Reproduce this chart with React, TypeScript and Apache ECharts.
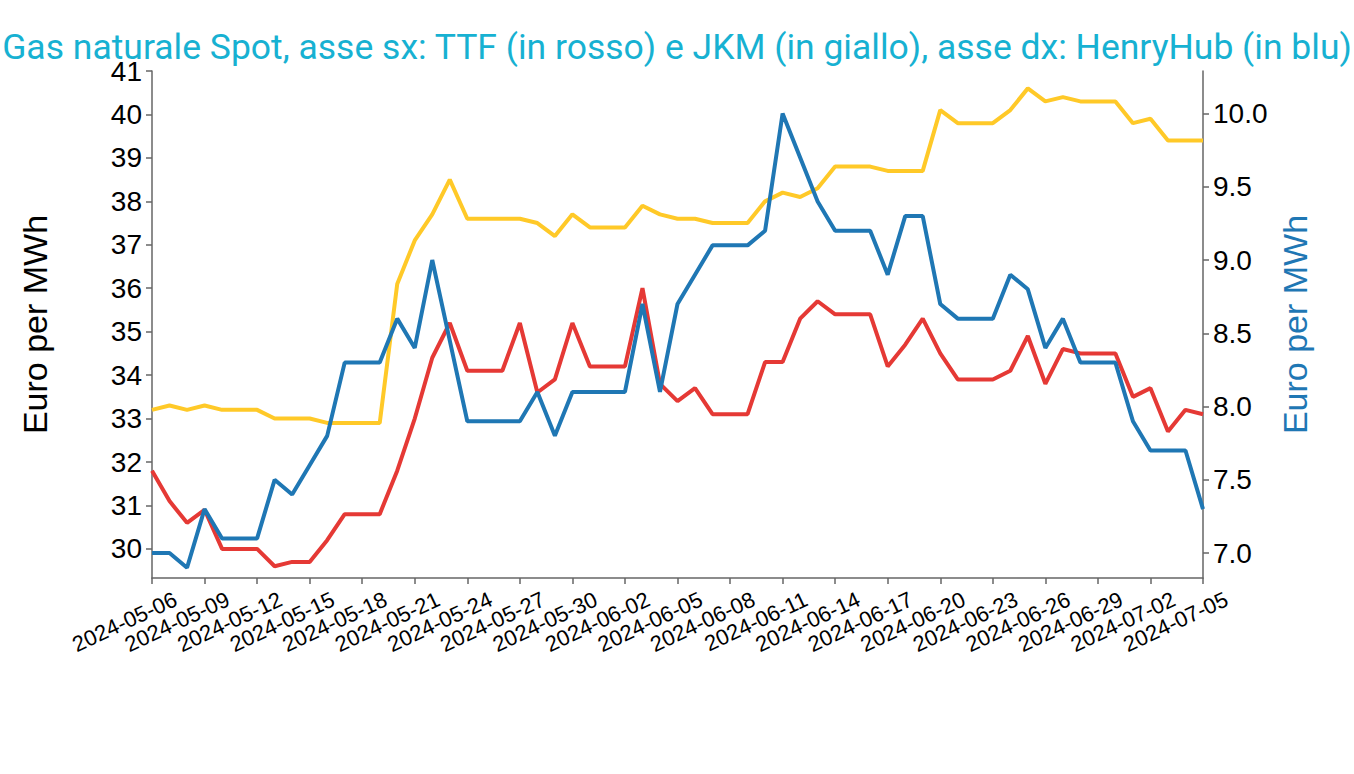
import React, { useEffect, useRef } from "react";
import * as echarts from "echarts";

const dates: string[] = [
  "2024-05-06","2024-05-07","2024-05-08","2024-05-09","2024-05-10","2024-05-11","2024-05-12","2024-05-13","2024-05-14","2024-05-15",
  "2024-05-16","2024-05-17","2024-05-18","2024-05-19","2024-05-20","2024-05-21","2024-05-22","2024-05-23","2024-05-24","2024-05-25",
  "2024-05-26","2024-05-27","2024-05-28","2024-05-29","2024-05-30","2024-05-31","2024-06-01","2024-06-02","2024-06-03","2024-06-04",
  "2024-06-05","2024-06-06","2024-06-07","2024-06-08","2024-06-09","2024-06-10","2024-06-11","2024-06-12","2024-06-13","2024-06-14",
  "2024-06-15","2024-06-16","2024-06-17","2024-06-18","2024-06-19","2024-06-20","2024-06-21","2024-06-22","2024-06-23","2024-06-24",
  "2024-06-25","2024-06-26","2024-06-27","2024-06-28","2024-06-29","2024-06-30","2024-07-01","2024-07-02","2024-07-03","2024-07-04",
  "2024-07-05",
];

const ttf: number[] = [
  31.8,31.1,30.6,30.9,30.0,30.0,30.0,29.6,29.7,29.7,
  30.2,30.8,30.8,30.8,31.8,33.0,34.4,35.2,34.1,34.1,
  34.1,35.2,33.6,33.9,35.2,34.2,34.2,34.2,36.0,33.8,
  33.4,33.7,33.1,33.1,33.1,34.3,34.3,35.3,35.7,35.4,
  35.4,35.4,34.2,34.7,35.3,34.5,33.9,33.9,33.9,34.1,
  34.9,33.8,34.6,34.5,34.5,34.5,33.5,33.7,32.7,33.2,
  33.1,
];

const jkm: number[] = [
  33.2,33.3,33.2,33.3,33.2,33.2,33.2,33.0,33.0,33.0,
  32.9,32.9,32.9,32.9,36.1,37.1,37.7,38.5,37.6,37.6,
  37.6,37.6,37.5,37.2,37.7,37.4,37.4,37.4,37.9,37.7,
  37.6,37.6,37.5,37.5,37.5,38.0,38.2,38.1,38.3,38.8,
  38.8,38.8,38.7,38.7,38.7,40.1,39.8,39.8,39.8,40.1,
  40.6,40.3,40.4,40.3,40.3,40.3,39.8,39.9,39.4,39.4,
  39.4,
];

const henryHub: number[] = [
  7.0,7.0,6.9,7.3,7.1,7.1,7.1,7.5,7.4,7.6,
  7.8,8.3,8.3,8.3,8.6,8.4,9.0,8.45,7.9,7.9,
  7.9,7.9,8.1,7.8,8.1,8.1,8.1,8.1,8.7,8.1,
  8.7,8.9,9.1,9.1,9.1,9.2,10.0,9.7,9.4,9.2,
  9.2,9.2,8.9,9.3,9.3,8.7,8.6,8.6,8.6,8.9,
  8.8,8.4,8.6,8.3,8.3,8.3,7.9,7.7,7.7,7.7,
  7.3,
];

const titleText =
  "Gas naturale Spot, asse sx: TTF (in rosso) e JKM (in giallo), asse dx: HenryHub (in blu)";
const yName = "Euro per MWh";

const AXIS_FONT = "'Liberation Sans', Arial, sans-serif";
const AXIS_COLOR = "#666666";
const LINE_W = 4;

export default function App() {
  const ref = useRef<HTMLDivElement>(null);

  useEffect(() => {
    document.body.style.margin = "0";
    if (!ref.current) return;
    const chart = echarts.init(ref.current, undefined, { renderer: "svg" });
    chart.setOption({
      animation: false,
      backgroundColor: "#ffffff",
      title: {
        text: titleText,
        left: "center",
        top: 29,
        padding: 0,
        textStyle: {
          color: "#17b1d2",
          fontFamily: "Roboto, sans-serif",
          fontWeight: "normal",
          fontSize: 35.5,
        },
      },
      grid: { left: 152, right: 151, top: 71, bottom: 196, containLabel: false },
      xAxis: {
        type: "category",
        data: dates,
        boundaryGap: false,
        axisLine: { show: true, lineStyle: { color: AXIS_COLOR, width: 1.5 } },
        axisTick: { show: true, interval: 2, length: 6, lineStyle: { color: AXIS_COLOR, width: 1.5 } },
        axisLabel: {
          interval: 2,
          rotate: 25,
          margin: 31,
          padding: [0, -26, 0, 0],
          color: "#000",
          fontSize: 22,
          fontFamily: AXIS_FONT,
        },
        splitLine: { show: false },
      },
      yAxis: [
        {
          type: "value",
          position: "left",
          min: 29.33,
          max: 41,
          minInterval: 1,
          maxInterval: 1,
          name: yName,
          nameLocation: "middle",
          nameGap: 100,
          nameRotate: 90,
          nameTextStyle: { color: "#000", fontSize: 34, fontFamily: AXIS_FONT },
          axisLine: { show: true, lineStyle: { color: AXIS_COLOR, width: 1.5 } },
          axisTick: { show: true, length: 6, lineStyle: { color: AXIS_COLOR, width: 1.5 } },
          axisLabel: {
            showMinLabel: false,
            margin: 10,
            color: "#000",
            fontSize: 28,
            fontFamily: AXIS_FONT,
          },
          splitLine: { show: false },
        },
        {
          type: "value",
          position: "right",
          min: 6.83,
          max: 10.29,
          minInterval: 0.5,
          maxInterval: 0.5,
          name: yName,
          nameLocation: "middle",
          nameGap: 75,
          nameRotate: 90,
          nameTextStyle: { color: "#1f77b4", fontSize: 34, fontFamily: AXIS_FONT },
          axisLine: { show: true, lineStyle: { color: AXIS_COLOR, width: 1.5 } },
          axisTick: { show: true, length: 6, lineStyle: { color: AXIS_COLOR, width: 1.5 } },
          axisLabel: {
            showMinLabel: false,
            showMaxLabel: false,
            margin: 10,
            color: "#000",
            fontSize: 28,
            fontFamily: AXIS_FONT,
            formatter: (v: number) => v.toFixed(1),
          },
          splitLine: { show: false },
        },
      ],
      series: [
        {
          name: "JKM",
          type: "line",
          yAxisIndex: 0,
          data: jkm,
          showSymbol: false,
          symbol: "none",
          lineStyle: { color: "#ffc928", width: LINE_W },
          itemStyle: { color: "#ffc928" },
        },
        {
          name: "TTF",
          type: "line",
          yAxisIndex: 0,
          data: ttf,
          showSymbol: false,
          symbol: "none",
          lineStyle: { color: "#e53935", width: LINE_W },
          itemStyle: { color: "#e53935" },
        },
        {
          name: "HenryHub",
          type: "line",
          yAxisIndex: 1,
          data: henryHub,
          showSymbol: false,
          symbol: "none",
          lineStyle: { color: "#1f77b4", width: LINE_W },
          itemStyle: { color: "#1f77b4" },
        },
      ],
    });
    return () => chart.dispose();
  }, []);

  return <div ref={ref} style={{ width: 1354, height: 774 }} />;
}
